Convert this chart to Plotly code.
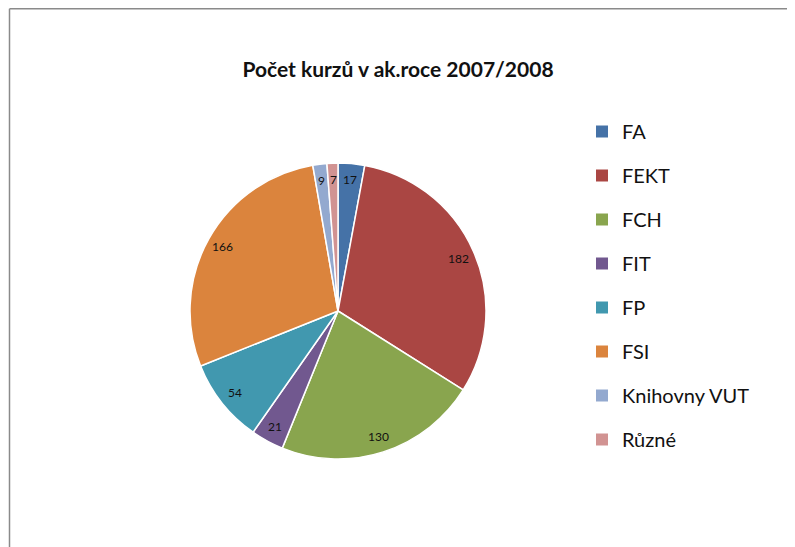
import numpy as np
import plotly.graph_objects as go

categories = ["FA", "FEKT", "FCH", "FIT", "FP", "FSI", "Knihovny VUT", "Různé"]
courses = [17, 182, 130, 21, 54, 166, 9, 7]
colors = ["#4572A7", "#AA4643", "#89A54E", "#71588F", "#4198AF", "#DB843D", "#93A9CF", "#D19392"]

# page has an 8px body margin, so the figure is a bit smaller and everything is shifted
W, H = 787, 539
cx, cy, R = 330, 303, 148  # pie centre / radius in figure pixels
dom_x = [(cx - R) / W, (cx + R) / W]
dom_y = [1 - (cy + R) / H, 1 - (cy - R) / H]

fig = go.Figure()

fig.add_trace(go.Pie(
    labels=categories, values=courses, sort=False, direction="clockwise",
    marker=dict(colors=colors, line=dict(color="white", width=1.5)),
    textinfo="none", hoverinfo="label+value", showlegend=False,
    domain=dict(x=dom_x, y=dom_y),
))

# value labels near the rim, like Excel does it
vals = np.array(courses, dtype=float)
mid = (np.cumsum(vals) - vals / 2) / vals.sum() * 2 * np.pi
annotations = []
for v, a in zip(courses, mid):
    px = cx + 0.89 * R * np.sin(a)
    py = cy - 0.89 * R * np.cos(a)
    annotations.append(dict(
        x=px / W, y=1 - py / H, xref="paper", yref="paper", text=str(v), showarrow=False,
        xanchor="center", yanchor="middle", font=dict(family="Lato", size=12, color="#111111"),
    ))

# legend entries, one group each so they can be spaced like the original
for name, col in zip(categories, colors):
    fig.add_trace(go.Scatter(
        x=[None], y=[None], mode="markers", name=name, legendgroup=name,
        marker=dict(symbol="square", size=12, color=col),
    ))

fig.update_layout(
    width=W, height=H,
    margin=dict(l=0, r=0, t=0, b=0),
    paper_bgcolor="white", plot_bgcolor="white",
    font=dict(family="Lato", color="#111111"),
    title=dict(text="<b>Počet kurzů v ak.roce 2007/2008</b>", x=(398 - 8) / W, xanchor="center",
               y=1 - 62 / H, yanchor="middle", yref="container",
               font=dict(family="Lato", size=21, color="#111111")),
    xaxis=dict(visible=False), yaxis=dict(visible=False),
    legend=dict(x=574 / W, xanchor="left", y=1 - 104 / H, yanchor="top",
                font=dict(family="Lato", size=20, color="#111111"),
                tracegroupgap=15, itemwidth=30, bgcolor="rgba(0,0,0,0)"),
    annotations=annotations,
    shapes=[
        dict(type="line", xref="paper", yref="paper", x0=1.5 / W, x1=1.5 / W, y0=0, y1=1 - 0.75 / H,
             line=dict(color="#8a8a8a", width=1.5)),
        dict(type="line", xref="paper", yref="paper", x0=1.5 / W, x1=1, y0=1 - 0.75 / H, y1=1 - 0.75 / H,
             line=dict(color="#8a8a8a", width=1.5)),
    ],
)

fig.write_html("out.html")
